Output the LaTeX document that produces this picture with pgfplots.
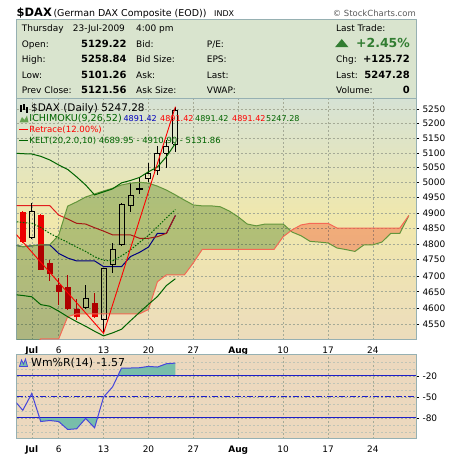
\documentclass[border=0pt]{standalone}
\usepackage{fontspec}
\setmainfont{DejaVu Sans}
\usepackage{pgfplots}
\pgfplotsset{compat=1.18}
\newcommand\fsz[1]{\fontsize{#1}{#1}\selectfont}
\definecolor{hdrfill}{RGB}{217,228,206}
\definecolor{framecol}{RGB}{150,176,178}
\definecolor{bgtop}{RGB}{214,226,212}
\definecolor{bgmid}{RGB}{240,232,172}
\definecolor{bgbot}{RGB}{236,220,188}
\definecolor{lowbg}{RGB}{236,216,190}
\definecolor{gridcol}{RGB}{165,170,150}
\definecolor{cloudG}{RGB}{189,211,175}
\definecolor{cloudR}{RGB}{255,190,180}
\definecolor{spanA}{RGB}{100,150,60}
\definecolor{spanB}{RGB}{245,105,85}
\definecolor{kelt}{RGB}{0,100,0}
\definecolor{tenkan}{RGB}{0,0,190}
\definecolor{kijun}{RGB}{225,30,30}
\definecolor{candred}{RGB}{235,0,0}
\definecolor{wmr}{RGB}{70,70,220}
\definecolor{wmfill}{RGB}{120,190,170}
\definecolor{hlblue}{RGB}{30,30,200}
\definecolor{upgreen}{RGB}{50,125,50}
\definecolor{icogreen}{RGB}{100,160,80}
% red (close<open) candle: x, left, right, open, high, low, close
\newcommand\candR[7]{%
 \addplot[candred, line width=1bp] coordinates {(#1,#4)(#1,#5)};
 \addplot[candred, line width=1bp] coordinates {(#1,#7)(#1,#6)};
 \addplot[draw=candred, fill=candred, line width=0.6bp] coordinates {(#2,#7)(#3,#7)(#3,#4)(#2,#4)(#2,#7)};}
% hollow (close>open) candle: x, left, right, open, high, low, close
\newcommand\candB[7]{%
 \addplot[black, line width=1bp] coordinates {(#1,#7)(#1,#5)};
 \addplot[black, line width=1bp] coordinates {(#1,#4)(#1,#6)};
 \addplot[draw=black, line width=1bp] coordinates {(#2,#4)(#3,#4)(#3,#7)(#2,#7)(#2,#4)};}
\begin{document}
\begin{tikzpicture}[x=1bp,y=1bp]
\path[use as bounding box, fill=white] (0,0) rectangle (460,456);

% ---------- header ----------
\fill[hdrfill] (16,357) rectangle (416.5,436.7);
\draw[framecol, line width=1bp] (16,357) rectangle (416.5,436.7);
\node[anchor=base west, inner sep=0] at (16.5,439.3) {\fsz{11.5}\bfseries \$DAX};
\node[anchor=base west, inner sep=0] at (53.3,439.5) {\fsz{9.5}(German DAX Composite (EOD))};
\node[anchor=base west, inner sep=0] at (214,439.5) {\fsz{8}INDX};
\node[anchor=base east, inner sep=0, text=black!65] at (416,439.5) {\fsz{8.5}© StockCharts.com};

\begin{scope}[every node/.style={anchor=base west, inner sep=0, font=\fsz{9}}]
\node at (21.7,424) {Thursday};
\node at (72.7,424) {23-Jul-2009};
\node at (136,424) {4:00 pm};
\node at (336,424) {Last Trade:};
\node at (21.7,408.5) {Open:};
\node at (136,408.5) {Bid:};
\node at (206.7,408.5) {P/E:};
\node at (21.7,393) {High:};
\node at (136,393) {Bid Size:};
\node at (206.7,393) {EPS:};
\node at (336,393) {Chg:};
\node at (21.7,377.5) {Low:};
\node at (136,377.5) {Ask:};
\node at (206.7,377.5) {Last:};
\node at (336,377.5) {Last:};
\node at (21.7,362) {Prev Close:};
\node at (136,362) {Ask Size:};
\node at (206.7,362) {VWAP:};
\node at (336,362) {Volume:};
\end{scope}
\begin{scope}[every node/.style={anchor=base east, inner sep=0, font=\fsz{10}\bfseries}]
\node at (126.7,408.5) {5129.22};
\node at (126.7,393) {5258.84};
\node at (126.7,377.5) {5101.26};
\node at (126.7,362) {5121.56};
\node at (410,393) {+125.72};
\node at (410,377.5) {5247.28};
\node at (410,362) {0};
\node[text=upgreen, font=\fsz{12.5}\bfseries] at (410,408.5) {+2.45\%};
\end{scope}
\fill[upgreen] (335,408.8) -- (348.5,408.8) -- (341.75,417) -- cycle;

% ---------- main panel (log price scale via y coord trafo) ----------
\begin{axis}[
  at={(16.5bp,116bp)}, anchor=south west,
  width=399.5bp, height=241bp, scale only axis,
  y coord trafo/.code={\pgfmathparse{1000*ln(#1/4900)}},
  xmin=-1.7, xmax=42.8,
  ymin=4503, ymax=5286,
  axis background/.style={top color=bgtop, bottom color=bgbot, middle color=bgmid},
  axis line style={draw=framecol, line width=1bp},
  xtick={0,3,8,13,18,23,28,33,38},
  xticklabels={\textbf{Jul},6,13,20,27,\textbf{Aug},10,17,24},
  ytick={4550,4600,4650,4700,4750,4800,4850,4900,4950,5000,5050,5100,5150,5200,5250},
  yticklabels={4550,4600,4650,4700,4750,4800,4850,4900,4950,5000,5050,5100,5150,5200,5250},
  ytick pos=right, yticklabel pos=right, xtick pos=bottom,
  tick align=outside, major tick length=3bp,
  xtick style={draw=none},
  ytick style={black, line width=0.5bp},
  grid=major,
  major grid style={gridcol, dash pattern=on 2bp off 2bp, line width=0.5bp},
  tick label style={font=\fsz{9}, text=black},
]
% Tenkan
\addplot[tenkan, line width=1bp] coordinates {(-2,4797)(-1,4791)(0,4794)(1,4797)(2,4797)(3,4770)(4,4755)(5,4746)(6,4746)(7,4746)(8,4728)(9,4728)(10,4728)(11,4760)(12,4773)(13,4790)(14,4834)(15,4834)(16,4891.42)};
% Kijun
\addplot[kijun, line width=1bp] coordinates {(-2,4924)(-1,4924)(0,4924)(1,4924)(2,4924)(3,4893)(4,4880)(5,4866)(6,4864)(7,4852)(8,4841)(9,4829)(10,4829)(11,4829)(12,4818)(13,4818)(14,4823)(15,4834)(16,4891.42)};
% candles
\candR{-1}{-1.28}{-0.72}{4901}{4906}{4803}{4807}
\candB{0}{-0.28}{0.28}{4820}{4932}{4816}{4904}
\candR{1}{0.72}{1.28}{4893}{4896}{4716}{4720}
\candR{2}{1.72}{2.28}{4739}{4749}{4684}{4707}
\candR{3}{2.72}{3.28}{4671}{4692}{4609}{4650}
\candR{4}{3.72}{4.28}{4663}{4702}{4592}{4599}
\candR{5}{4.72}{5.28}{4597}{4627}{4562}{4573}
\candB{6}{5.72}{6.28}{4601}{4671}{4596}{4630}
\candR{7}{6.72}{7.28}{4614}{4645}{4569}{4575}
\candB{8}{7.72}{8.28}{4565}{4725}{4523}{4723}
\candB{9}{8.72}{9.28}{4736}{4802}{4707}{4783}
\candB{10}{9.72}{10.28}{4799}{4932}{4795}{4929}
\candB{11}{10.72}{11.28}{4923}{4998}{4904}{4957}
\candB{12}{11.72}{12.28}{4977}{5020}{4961}{4980}
\candB{13}{12.72}{13.28}{5012}{5065}{5003}{5031}
\candB{14}{13.72}{14.28}{5040}{5122}{5026}{5096}
\candB{15}{14.72}{15.28}{5098}{5144}{5048}{5121.56}
\candB{16}{15.72}{16.28}{5129.22}{5258.84}{5101.26}{5247.28}
% cloud green (Span A above Span B)
\addplot[fill=cloudG, draw=none, blend mode=multiply] coordinates {
(-2,4797)(-1,4791)(0,4794)(1,4797)(2,4797)(3,4828)(4,4922)(5,4936)(6,4952)(7,4962)(8,4972)(9,4981)(10,4992)(11,4998)(12,5001)(13,4998)(14,4988)(15,4975)(16,4959)(17,4942)(18,4926)(19,4923)(20,4923)(21,4920)(22,4906)(23,4887)(24,4864)(25,4858)(26,4864)(27,4864)(28,4864)(28.854,4841.8)
(28,4823)(27,4783)(26,4783)(25,4783)(24,4783)(23,4783)(22,4783)(21,4783)(20,4783)(19,4783)(18,4740)(17,4702)(16,4702)(15,4702)(14,4681)(13,4595)(12,4582)(11,4582)(10,4582)(9,4582)(8,4582)(7,4582)(6,4582)(5,4582)(4,4573)(3,4506)(2,4506)(1,4506)(0,4475)(-1,4470)(-2,4470)(-2,4797)};
% cloud red (Span B above Span A)
\addplot[fill=cloudR, draw=none, blend mode=multiply] coordinates {
(28.854,4841.8)(29,4845)(30,4861)(31,4866)(32,4866)(33,4866)(34,4851)(35,4851)(36,4851)(37,4851)(38,4851)(39,4851)(40,4851)(41,4851)(42,4891.42)
(41,4834)(40,4834)(39,4806)(38,4797)(37,4797)(36,4776)(35,4782)(34,4787)(33,4803)(32,4806)(31,4808)(30,4826)(29,4838)(28.854,4841.8)};
% Span A edge
\addplot[spanA, line width=1bp] coordinates {(-2,4797)(-1,4791)(0,4794)(1,4797)(2,4797)(3,4828)(4,4922)(5,4936)(6,4952)(7,4962)(8,4972)(9,4981)(10,4992)(11,4998)(12,5001)(13,4998)(14,4988)(15,4975)(16,4959)(17,4942)(18,4926)(19,4923)(20,4923)(21,4920)(22,4906)(23,4887)(24,4864)(25,4858)(26,4864)(27,4864)(28,4864)(29,4838)(30,4826)(31,4808)(32,4806)(33,4803)(34,4787)(35,4782)(36,4776)(37,4797)(38,4797)(39,4806)(40,4834)(41,4834)(42,4891.42)};
% Span B edge
\addplot[spanB, line width=1bp] coordinates {(-2,4470)(-1,4470)(0,4475)(1,4506)(2,4506)(3,4506)(4,4573)(5,4582)(6,4582)(7,4582)(8,4582)(9,4582)(10,4582)(11,4582)(12,4582)(13,4595)(14,4681)(15,4702)(16,4702)(17,4702)(18,4740)(19,4783)(20,4783)(21,4783)(22,4783)(23,4783)(24,4783)(25,4783)(26,4783)(27,4783)(28,4823)(29,4845)(30,4861)(31,4866)(32,4866)(33,4866)(34,4851)(35,4851)(36,4851)(37,4851)(38,4851)(39,4851)(40,4851)(41,4851)(42,4891.42)};
% Keltner channels
\addplot[kelt, line width=1bp] coordinates {(-2,5099)(-1,5097)(0,5096)(1,5088)(2,5076)(3,5059)(4,5044)(5,5019)(6,4992)(7,4959)(8,4969)(9,4979)(10,4999)(11,5007)(12,5017)(13,5036)(14,5052)(15,5087)(16,5131.86)};
\addplot[kelt, line width=1bp, dash pattern=on 1.5bp off 1.5bp] coordinates {(-2,4872)(-1,4869)(0,4866)(1,4853)(2,4834)(3,4819)(4,4805)(5,4790)(6,4776)(7,4759)(8,4748)(9,4746)(10,4762)(11,4781)(12,4805)(13,4827)(14,4855)(15,4884)(16,4910.90)};
\addplot[kelt, line width=1bp] coordinates {(-2,4641)(-1,4638)(0,4634)(1,4610)(2,4605)(3,4590)(4,4573)(5,4558)(6,4544)(7,4529)(8,4515)(9,4524)(10,4535)(11,4561)(12,4586)(13,4611)(14,4635)(15,4669)(16,4689.95)};
% Retrace zigzag
\addplot[red, line width=0.9bp] coordinates {(-3,4872)(8,4523)(16,5258.84)};
\end{axis}

% main legend
\draw[black, line width=1.3bp] (21,344)--(21,351) (24,346)--(24,352) (27,343)--(27,349);
\node[anchor=base west, inner sep=0] at (31,344.3) {\fsz{10.5}\$DAX (Daily) 5247.28};
\fill[icogreen] (19.5,333.5)--(22,339)--(24.5,336)--(27,340.5)--(28.5,333.5)--cycle;
\node[anchor=base west, inner sep=0, text=kelt] at (29.3,334.3) {\fsz{9.6}ICHIMOKU(9,26,52)};
\node[anchor=base west, inner sep=0, text=tenkan] at (123.3,334.3) {\fsz{8.1}4891.42};
\node[anchor=base west, inner sep=0, text=red] at (160,334.3) {\fsz{8.1}4891.42};
\node[anchor=base west, inner sep=0, text=kelt] at (195,334.3) {\fsz{8.1}4891.42};
\node[anchor=base west, inner sep=0, text=red] at (232,334.3) {\fsz{8.1}4891.42};
\node[anchor=base west, inner sep=0, text=kelt] at (266,334.3) {\fsz{8.1}5247.28};
\draw[red, line width=1.6bp] (19,326.6)--(28,326.6);
\node[anchor=base west, inner sep=0, text=red] at (29.3,323.7) {\fsz{8.6}Retrace(12.00\%)};
\draw[kelt, line width=1.6bp] (19,315.5)--(28,315.5);
\node[anchor=base west, inner sep=0, text=kelt] at (29.3,312.3) {\fsz{8.5}KELT(20,2.0,10) 4689.95 - 4910.90 - 5131.86};

% ---------- Williams %R panel ----------
\begin{axis}[
  at={(16.5bp,17bp)}, anchor=south west,
  width=399.5bp, height=84bp, scale only axis,
  xmin=-1.7, xmax=42.8, ymin=-110, ymax=10,
  axis background/.style={fill=lowbg},
  axis line style={draw=framecol, line width=1bp},
  xtick={0,3,8,13,18,23,28,33,38},
  xticklabels={\textbf{Jul},6,13,20,27,\textbf{Aug},10,17,24},
  ytick={-80,-50,-20}, yticklabels={-80,-50,-20},
  minor ytick={-100,-90,-70,-60,-40,-30,-10,0},
  ytick pos=right, yticklabel pos=right, xtick pos=bottom,
  tick align=outside, major tick length=3bp, minor tick length=0bp,
  xtick style={draw=none},
  ytick style={black, line width=0.5bp},
  grid=both,
  major grid style={gridcol, dash pattern=on 2bp off 2bp, line width=0.5bp},
  minor grid style={gridcol!70, dash pattern=on 2bp off 2bp, line width=0.4bp},
  tick label style={font=\fsz{9}, text=black},
]
\addplot[fill=wmfill, draw=none] coordinates {(9.578,-20)(10,-8.6)(11,-8.6)(12,-8.2)(13,-6.3)(14,-7.2)(15,-2.5)(16,-1.57)(16,-20)(9.578,-20)};
\addplot[fill=wmfill, draw=none] coordinates {(0.875,-80)(1,-85)(2,-83.6)(3,-85)(4,-96.4)(5,-95.4)(6,-80.7)(7,-94)(7.318,-80)(0.875,-80)};
\addplot[hlblue, line width=1bp] coordinates {(-1.7,-20)(42.8,-20)};
\addplot[hlblue, line width=1bp] coordinates {(-1.7,-80)(42.8,-80)};
\addplot[hlblue, line width=1bp, dash pattern=on 6bp off 2bp on 1.5bp off 2bp] coordinates {(-1.7,-50)(42.8,-50)};
\addplot[wmr, line width=1bp] coordinates {(-2,-54)(-1,-69)(0,-45)(1,-85)(2,-83.6)(3,-85)(4,-96.4)(5,-95.4)(6,-80.7)(7,-94)(8,-50)(9,-35.6)(10,-8.6)(11,-8.6)(12,-8.2)(13,-6.3)(14,-7.2)(15,-2.5)(16,-1.57)};
\end{axis}
\fill[wmfill, draw=wmr, line width=0.8bp] (19.5,89.5)--(21.5,96)--(23.5,92)--(25.5,97)--(27.5,89.5)--cycle;
\node[anchor=base west, inner sep=0] at (31,89.3) {\fsz{11}Wm\%R(14) -1.57};
\end{tikzpicture}
\end{document}
